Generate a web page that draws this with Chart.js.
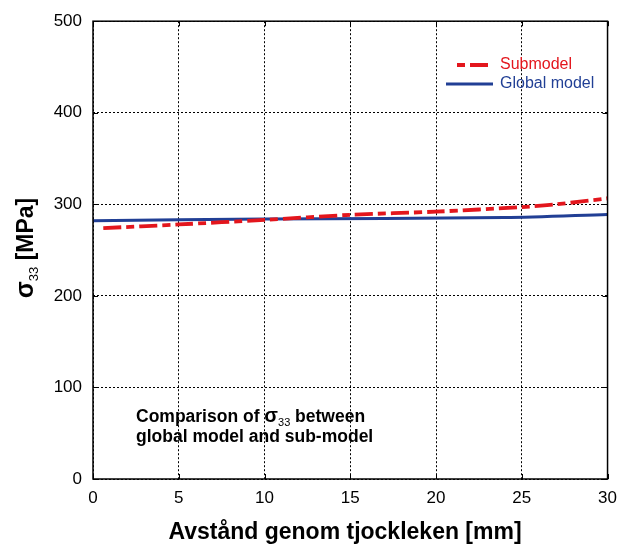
<!DOCTYPE html>
<html>
<head>
<meta charset="utf-8">
<script src="https://cdn.jsdelivr.net/npm/chart.js@4/dist/chart.umd.min.js"></script>
<style>
  html, body { margin: 0; padding: 0; background: #fff; }
  #wrap { width: 626px; height: 547px; position: relative; }
</style>
</head>
<body>
<div id="wrap"><canvas id="c" width="626" height="547"></canvas></div>
<script>
// data
const subX = [0.6, 5, 10, 15, 20, 25, 27, 30];
const subY = [274, 278, 283, 288.5, 292, 297, 300, 306.5];
const globX = [0, 10, 24, 30];
const globY = [282, 284, 285.5, 289];
const xTicks = [0, 5, 10, 15, 20, 25, 30];
const yTicks = [0, 100, 200, 300, 400, 500];
const seriesNames = ["Submodel", "Global model"];

const RED = "#e3161d";
const BLUE = "#213f95";
const FONT = "'Liberation Sans', Arial, sans-serif";

function pts(xs, ys) {
  return xs.map((x, i) => ({ x: x, y: ys[i] }));
}

const textPlugin = {
  id: "texts",
  afterDraw(chart) {
    const ctx = chart.ctx;
    const a = chart.chartArea;
    const xs = chart.scales.x, ys = chart.scales.y;
    ctx.save();

    // solid frame + small inward tick marks
    ctx.strokeStyle = "#000";
    ctx.lineWidth = 1.5;
    ctx.strokeRect(a.left, a.top, a.right - a.left, a.bottom - a.top);
    ctx.lineWidth = 1;
    ctx.beginPath();
    xTicks.forEach((v) => {
      const px = Math.round(xs.getPixelForValue(v)) + 0.5;
      ctx.moveTo(px, a.bottom); ctx.lineTo(px, a.bottom - 5);
      ctx.moveTo(px, a.top); ctx.lineTo(px, a.top + 5);
    });
    yTicks.forEach((v) => {
      const py = Math.round(ys.getPixelForValue(v)) + 0.5;
      ctx.moveTo(a.left, py); ctx.lineTo(a.left + 5, py);
      ctx.moveTo(a.right, py); ctx.lineTo(a.right - 5, py);
    });
    ctx.stroke();

    // x title
    ctx.fillStyle = "#000";
    ctx.font = "bold 23px " + FONT;
    ctx.textAlign = "center";
    ctx.textBaseline = "middle";
    ctx.fillText("Avstånd genom tjockleken [mm]", 345, 533);

    // y title with subscript
    ctx.save();
    ctx.translate(25, 248);
    ctx.rotate(-Math.PI / 2);
    ctx.textAlign = "left";
    ctx.textBaseline = "alphabetic";
    const f1 = "bold 25px " + FONT, f2 = "13px " + FONT, f3 = "bold 23px " + FONT;
    ctx.font = f1; const w1 = ctx.measureText("σ").width;
    ctx.font = f2; const w2 = ctx.measureText("33").width;
    ctx.font = f3; const w3 = ctx.measureText(" [MPa]").width;
    let x0 = -(w1 + w2 + w3) / 2;
    const base = 8;
    ctx.font = f1; ctx.fillText("σ", x0, base); x0 += w1;
    ctx.font = f2; ctx.fillText("33", x0, base + 5); x0 += w2;
    ctx.font = f3; ctx.fillText(" [MPa]", x0, base);
    ctx.restore();

    // annotation
    ctx.textAlign = "left";
    ctx.textBaseline = "alphabetic";
    let tx = 136;
    const b1 = 422;
    ctx.font = "bold 17.5px " + FONT;
    ctx.fillText("Comparison of ", tx, b1);
    tx += ctx.measureText("Comparison of ").width;
    ctx.font = "bold 20px " + FONT;
    ctx.fillText("σ", tx, b1);
    tx += ctx.measureText("σ").width;
    ctx.font = "11px " + FONT;
    ctx.fillText("33", tx, b1 + 4);
    tx += ctx.measureText("33").width;
    ctx.font = "bold 17.5px " + FONT;
    ctx.fillText(" between", tx, b1);
    ctx.fillText("global model and sub-model", 136, 442);

    // legend
    const ds = chart.data.datasets;
    const rows = [
      { y: 65, x1: 457, x2: 493 },
      { y: 84, x1: 446, x2: 493 },
    ];
    rows.forEach((r, i) => {
      ctx.strokeStyle = ds[i].borderColor;
      ctx.lineWidth = ds[i].borderWidth;
      ctx.setLineDash(ds[i].borderDash || []);
      ctx.lineDashOffset = ds[i].borderDash ? 23 : 0;
      ctx.beginPath();
      ctx.moveTo(r.x1, r.y); ctx.lineTo(r.x2, r.y);
      ctx.stroke();
      ctx.setLineDash([]);
      ctx.fillStyle = ds[i].borderColor;
      ctx.font = "16px " + FONT;
      ctx.textBaseline = "middle";
      ctx.fillText(seriesNames[i], 500, r.y);
    });
    ctx.restore();
  }
};

new Chart(document.getElementById("c"), {
  type: "scatter",
  data: {
    datasets: [
      {
        label: seriesNames[0],
        data: pts(subX, subY),
        showLine: true,
        borderColor: RED,
        borderWidth: 3.8,
        borderDash: [18, 5, 8, 5],
        pointRadius: 0,
        tension: 0.3,
        fill: false,
      },
      {
        label: seriesNames[1],
        data: pts(globX, globY),
        showLine: true,
        borderColor: BLUE,
        borderWidth: 3,
        pointRadius: 0,
        tension: 0.3,
        fill: false,
      },
    ],
  },
  options: {
    responsive: false,
    animation: false,
    layout: { padding: { left: 0, right: 13, top: 21, bottom: 0 } },
    plugins: { legend: { display: false }, tooltip: { enabled: false } },
    scales: {
      x: {
        type: "linear",
        min: 0,
        max: 30,
        afterFit(s) { s.height = 68; },
        afterBuildTicks(s) { s.ticks = xTicks.map((v) => ({ value: v })); },
        ticks: { color: "#000", font: { family: FONT, size: 17 }, padding: 9, maxRotation: 0 },
        grid: { color: "#000", lineWidth: 1, drawTicks: false },
        border: { display: false, dash: [2, 2] },
      },
      y: {
        min: 0,
        max: 500,
        afterFit(s) { s.width = 93; },
        afterBuildTicks(s) { s.ticks = yTicks.map((v) => ({ value: v })); },
        ticks: { color: "#000", font: { family: FONT, size: 17 }, padding: 11 },
        grid: { color: "#000", lineWidth: 1, drawTicks: false },
        border: { display: false, dash: [2, 2] },
      },
    },
  },
  plugins: [textPlugin],
});
</script>
</body>
</html>
